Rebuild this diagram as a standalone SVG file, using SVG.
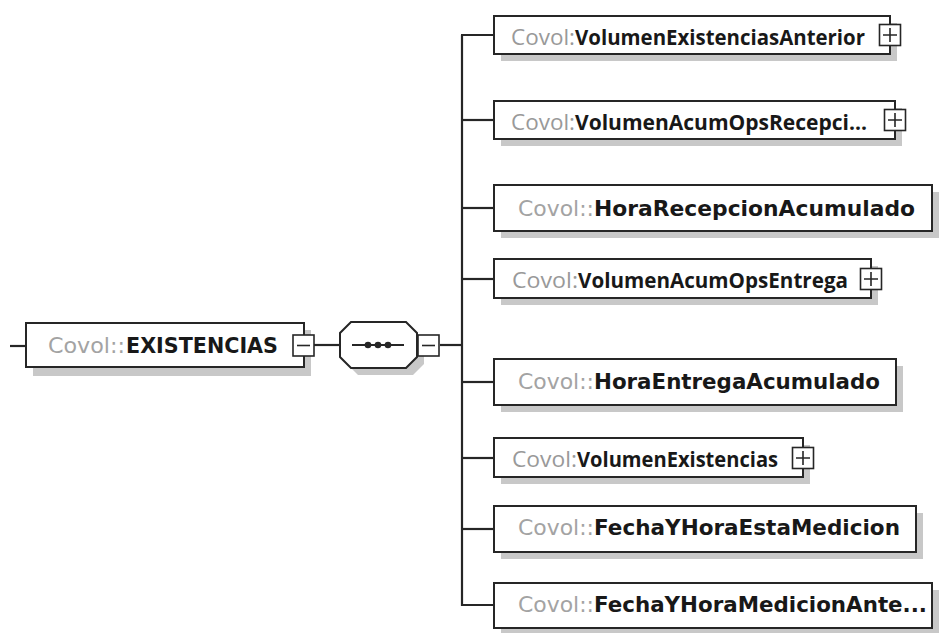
<svg xmlns="http://www.w3.org/2000/svg" width="945" height="633" viewBox="0 0 945 633">
  <defs>
    <style>
      .shadow { fill: #c8c8c8; stroke: none; }
      .box { fill: #ffffff; stroke: #262626; stroke-width: 2; }
      .btn { fill: #ffffff; stroke: #262626; stroke-width: 1.6; }
      .sign { stroke: #262626; stroke-width: 1.6; fill: none; }
      .conn { stroke: #262626; stroke-width: 2.2; fill: none; }
      .pre { font-family: "DejaVu Sans", "Liberation Sans", sans-serif; font-size: 21px; fill: #a3a3a3; }
      .preC { font-family: "Open Sans", "Liberation Sans", sans-serif; font-size: 21px; fill: #999999; }
      .name { font-family: "DejaVu Sans", "Liberation Sans", sans-serif; font-size: 21.5px; font-weight: bold; fill: #181818; }
      .nameC { font-family: "Open Sans", "Liberation Sans", sans-serif; font-size: 21px; font-weight: 700; fill: #181818; }
    </style>
  </defs>
  <rect width="945" height="633" fill="#ffffff"/>

  <g id="connectors">
    <line class="conn" x1="10" y1="346" x2="26" y2="346"/>
    <line class="conn" x1="314" y1="345" x2="340" y2="345"/>
    <line class="conn" x1="440" y1="345" x2="462" y2="345"/>
    <line class="conn" x1="462" y1="35" x2="462" y2="606"/>
    <line class="conn" x1="461" y1="35" x2="494" y2="35"/>
    <line class="conn" x1="462" y1="120" x2="494" y2="120"/>
    <line class="conn" x1="462" y1="208" x2="494" y2="208"/>
    <line class="conn" x1="462" y1="279" x2="494" y2="279"/>
    <line class="conn" x1="462" y1="382" x2="494" y2="382"/>
    <line class="conn" x1="462" y1="458" x2="494" y2="458"/>
    <line class="conn" x1="462" y1="529" x2="494" y2="529"/>
    <line class="conn" x1="461" y1="605" x2="494" y2="605"/>
  </g>

  <g id="node-existencias">
    <rect class="shadow" x="33" y="330" width="278" height="46"/>
    <rect class="box" x="26" y="323" width="278" height="44"/>
    <text class="pre" x="48" y="353" textLength="77" lengthAdjust="spacingAndGlyphs">Covol::</text>
    <text class="name" x="126" y="353" textLength="152" lengthAdjust="spacingAndGlyphs">EXISTENCIAS</text>
    <rect class="btn" x="293" y="335" width="21" height="21"/>
    <line class="sign" x1="297" y1="345.5" x2="310" y2="345.5"/>
  </g>

  <g id="node-sequence">
    <polygon class="shadow" points="358,329 413,329 424,340 424,364 413,375 358,375 347,364 347,340"/>
    <polygon class="box" points="351,322 406,322 417,333 417,357 406,368 351,368 340,357 340,333"/>
    <line class="conn" x1="352" y1="345" x2="404" y2="345"/>
    <circle cx="368" cy="345" r="3.3" fill="#262626"/>
    <circle cx="378" cy="345" r="3.3" fill="#262626"/>
    <circle cx="388" cy="345" r="3.3" fill="#262626"/>
    <rect class="btn" x="418" y="335" width="21" height="21"/>
    <line class="sign" x1="422" y1="345.5" x2="435" y2="345.5"/>
  </g>

  <g id="node-volumen-existencias-anterior">
    <rect class="shadow" x="501" y="23" width="396" height="38"/>
    <rect class="box" x="494" y="16" width="396" height="38"/>
    <text class="preC" x="511" y="45" textLength="64" lengthAdjust="spacingAndGlyphs">Covol:</text>
    <text class="nameC" x="575" y="45" textLength="290" lengthAdjust="spacingAndGlyphs">VolumenExistenciasAnterior</text>
    <rect class="btn" x="879.5" y="24.5" width="21" height="21"/>
    <path class="sign" d="M883 35H897M890 28V42"/>
  </g>

  <g id="node-volumen-acum-ops-recepcion">
    <rect class="shadow" x="501" y="108" width="401" height="38"/>
    <rect class="box" x="494" y="101" width="401" height="38"/>
    <text class="preC" x="511" y="130" textLength="64" lengthAdjust="spacingAndGlyphs">Covol:</text>
    <text class="nameC" x="575" y="130" textLength="292" lengthAdjust="spacingAndGlyphs">VolumenAcumOpsRecepci...</text>
    <rect class="btn" x="884.5" y="109.5" width="21" height="21"/>
    <path class="sign" d="M888 120H902M895 113V127"/>
  </g>

  <g id="node-hora-recepcion-acumulado">
    <rect class="shadow" x="501" y="192" width="438" height="46"/>
    <rect class="box" x="494" y="185" width="438" height="46"/>
    <text class="pre" x="518" y="216" textLength="76" lengthAdjust="spacingAndGlyphs">Covol::</text>
    <text class="name" x="594" y="216" textLength="321" lengthAdjust="spacingAndGlyphs">HoraRecepcionAcumulado</text>
  </g>

  <g id="node-volumen-acum-ops-entrega">
    <rect class="shadow" x="501" y="266" width="377" height="39"/>
    <rect class="box" x="494" y="259" width="377" height="39"/>
    <text class="preC" x="512" y="288" textLength="66" lengthAdjust="spacingAndGlyphs">Covol:</text>
    <text class="nameC" x="578" y="288" textLength="270" lengthAdjust="spacingAndGlyphs">VolumenAcumOpsEntrega</text>
    <rect class="btn" x="860.5" y="268.5" width="21" height="21"/>
    <path class="sign" d="M864 279H878M871 272V286"/>
  </g>

  <g id="node-hora-entrega-acumulado">
    <rect class="shadow" x="501" y="366" width="402" height="46"/>
    <rect class="box" x="494" y="359" width="402" height="46"/>
    <text class="pre" x="518" y="389" textLength="76" lengthAdjust="spacingAndGlyphs">Covol::</text>
    <text class="name" x="594" y="389" textLength="286" lengthAdjust="spacingAndGlyphs">HoraEntregaAcumulado</text>
  </g>

  <g id="node-volumen-existencias">
    <rect class="shadow" x="501" y="445" width="309" height="39"/>
    <rect class="box" x="494" y="438" width="309" height="39"/>
    <text class="preC" x="512" y="467" textLength="65" lengthAdjust="spacingAndGlyphs">Covol:</text>
    <text class="nameC" x="577" y="467" textLength="201" lengthAdjust="spacingAndGlyphs">VolumenExistencias</text>
    <rect class="btn" x="792.5" y="447.5" width="21" height="21"/>
    <path class="sign" d="M796 458H810M803 451V465"/>
  </g>

  <g id="node-fecha-hora-esta-medicion">
    <rect class="shadow" x="501" y="513" width="422" height="46"/>
    <rect class="box" x="494" y="506" width="422" height="46"/>
    <text class="pre" x="518" y="535" textLength="76" lengthAdjust="spacingAndGlyphs">Covol::</text>
    <text class="name" x="594" y="535" textLength="306" lengthAdjust="spacingAndGlyphs">FechaYHoraEstaMedicion</text>
  </g>

  <g id="node-fecha-hora-medicion-anterior">
    <rect class="shadow" x="501" y="590" width="438" height="45"/>
    <rect class="box" x="494" y="583" width="438" height="45"/>
    <text class="pre" x="518" y="612" textLength="76" lengthAdjust="spacingAndGlyphs">Covol::</text>
    <text class="name" x="594" y="612" textLength="333" lengthAdjust="spacingAndGlyphs">FechaYHoraMedicionAnte...</text>
  </g>
</svg>
